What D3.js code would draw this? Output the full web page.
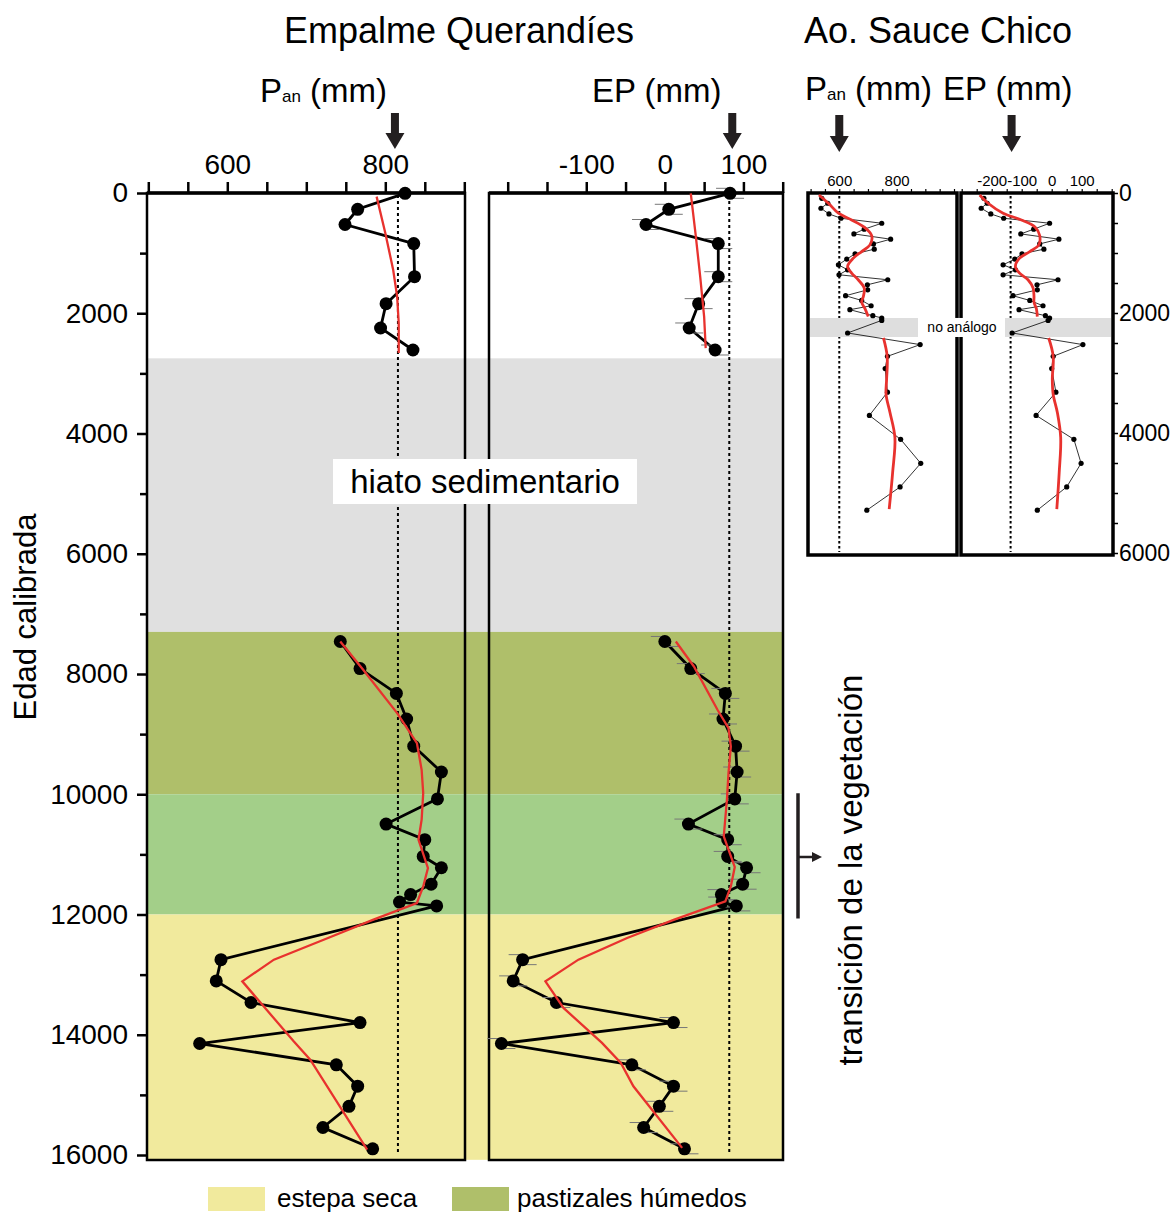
<!DOCTYPE html>
<html lang="es">
<head>
<meta charset="utf-8">
<title>Empalme Querandíes - Ao. Sauce Chico</title>
<script src="https://cdn.jsdelivr.net/npm/d3@7"></script>
<style>
  body { margin: 0; background: #fff; }
  svg text { font-family: "Liberation Sans", Arial, sans-serif; fill: #000; }
</style>
</head>
<body>
<svg id="chart" width="1174" height="1212"></svg>
<script>
// ---- Empalme Querandíes (edad cal. AP) ----
const ageTop = [5, 271, 524, 841, 1392, 1840, 2245, 2611]
const panTop = [825, 765, 749, 836, 837, 801, 794, 835]
const epTop = [83, 5, -24, 68, 68, 43, 31, 64]

const ageBottom = [7459, 7910, 8323, 8748, 9200, 9630, 10077, 10496, 10756, 11034, 11222, 11496, 11669,
  11793, 11857, 12751, 13104, 13464, 13797, 14146, 14500, 14855, 15190, 15543, 15897]
const panBottom = [743, 768, 814, 827, 836, 871, 866, 801, 850, 848, 871, 858, 832,
  818, 865, 592, 586, 630, 768, 565, 738, 765, 754, 721, 784]
const epBottom = [0, 33, 77, 74, 90, 92, 89, 30, 80, 80, 104, 99, 72,
  73, 91, -181, -193, -138, 11, -208, -42, 11, -7, -27, 25]

// curvas suavizadas (rojo)
const panSmoothAgeTop = [60, 665, 1280, 1724, 2161, 2660]
const panSmoothTop = [789, 800, 810, 815, 817, 817]
const epSmoothAgeTop = [5, 670, 1391, 2055, 2580]
const epSmoothTop = [33, 39, 45, 50, 52]

const panSmoothAgeBottom = [7459, 7930, 8650, 9149, 9593, 9980, 10424, 10757, 11227, 11533, 11809,
  12086, 12419, 12751, 13112, 14110, 14414, 15910]
const panSmoothBottom = [743, 772, 815, 840, 846, 848, 846, 842, 854, 848, 840,
  785, 722, 659, 619, 684, 705, 777]
const epSmoothAgeBottom = [7459, 7875, 8595, 8899, 9205, 9648, 10092, 10702, 11210, 11533, 11782,
  12086, 12390, 12751, 13112, 13554, 14136, 14468, 14857, 15882]
const epSmoothBottom = [14, 37, 67, 81, 84, 81, 79, 75, 89, 84, 77,
  12, -48, -110, -152, -129, -80, -56, -40, 22]

const panRef = 816   // linea punteada
const epRef = 82

// zonas de vegetacion
const zoneNames = ["hiato sedimentario", "pastizales húmedos", "transición", "estepa seca"]
const zoneFrom = [2750, 7300, 10000, 12000]
const zoneTo = [7300, 10000, 12000, 16080]

// ---- Ao. Sauce Chico ----
const ageSC = [88, 171, 254, 349, 421, 504, 603, 682, 770, 848, 936, 1014, 1102, 1197, 1280, 1363, 1446,
  1530, 1613, 1712, 1791, 1879, 1945, 2045, 2083, 2123, 2333, 2527, 2722, 2926, 3320, 3707, 4106,
  4505, 4899, 5287]
const panSC = [539, 560, 536, 564, 606, 748, 687, 651, 779, 719, 722, 655, 626, 597, 629, 599, 769,
  698, 699, 622, 678, 711, 637, 717, 748, 748, 629, 882, 768, 760, 768, 705, 814,
  884, 812, 696]
const epSC = [-226, -215, -235, -203, -160, -7, -60, -103, 24, -40, -26, -99, -123, -162, -121, -162, 21,
  -49, -48, -129, -73, -29, -109, -21, -7, -12, -132, 104, 5, 0, 14, -52, 74,
  98, 50, -48]

const smoothAgeSC1 = [33, 171, 337, 449, 570, 710, 865, 976, 1086, 1225, 1335, 1446, 1584, 1724, 1820, 1930, 2060]
const panSmoothSC1 = [529, 562, 597, 643, 687, 713, 707, 678, 649, 629, 643, 666, 687, 684, 678, 690, 701]
const epSmoothSC1 = [-240, -212, -162, -101, -55, -40, -43, -73, -107, -121, -107, -79, -62, -59, -59, -51, -48]
const smoothAgeSC2 = [2416, 2722, 3109, 3358, 3663, 4078, 4660, 5270]
const panSmoothSC2 = [754, 767, 765, 763, 777, 794, 786, 774]
const epSmoothSC2 = [-10, 5, 2, 5, 19, 30, 25, 17]

const noAnalogFrom = 2083
const noAnalogTo = 2400
const panRefSC = 600
const epRefSC = -137

// colores
const colors = {
  zones: ["#e0e0e0", "#afbf6a", "#a3cf89", "#f1ea9d"],
  red: "#e8322e",
  noAnalog: "#dedede"
}

const svg = d3.select("#chart")

// scales
const y = d3.scaleLinear().domain([0, 16000]).range([193, 1155])
const xPan = d3.scaleLinear().domain([500, 900]).range([148.3, 464.3])
const xEP = d3.scaleLinear().domain([-200, 150]).range([507.7, 782.7])

const ySC = d3.scaleLinear().domain([0, 6000]).range([193, 553])
const xPanSC = d3.scaleLinear().domain([500, 1000]).range([810.6, 954])
const xEPSC = d3.scaleLinear().domain([-300, 200]).range([961.7, 1111.7])

const zip = (a, b) => a.map((d, i) => [d, b[i]])

// ---------- bandas de fondo ----------
svg.append("g")
  .selectAll("rect")
  .data(zoneNames)
  .join("rect")
  .attr("x", 147)
  .attr("width", 783 - 147)
  .attr("y", (d, i) => y(zoneFrom[i]))
  .attr("height", (d, i) => y(zoneTo[i]) - y(zoneFrom[i]))
  .style("fill", (d, i) => colors.zones[i])

// marcos
svg.append("rect").attr("x", 147).attr("y", 193).attr("width", 318).attr("height", 967)
  .style("fill", "none").style("stroke", "#000").style("stroke-width", 2.5)
svg.append("rect").attr("x", 489).attr("y", 193).attr("width", 294).attr("height", 967)
  .style("fill", "none").style("stroke", "#000").style("stroke-width", 2.5)
svg.append("line").attr("x1", 147).attr("x2", 465).attr("y1", 193).attr("y2", 193)
  .style("stroke", "#000").style("stroke-width", 3.5)
svg.append("line").attr("x1", 489).attr("x2", 783).attr("y1", 193).attr("y2", 193)
  .style("stroke", "#000").style("stroke-width", 3.5)

// lineas punteadas de referencia
svg.append("line").attr("x1", xPan(panRef)).attr("x2", xPan(panRef)).attr("y1", 195).attr("y2", 1155)
  .style("stroke", "#000").style("stroke-width", 2).style("stroke-dasharray", "3,3")
svg.append("line").attr("x1", xEP(epRef)).attr("x2", xEP(epRef)).attr("y1", 195).attr("y2", 1155)
  .style("stroke", "#000").style("stroke-width", 2).style("stroke-dasharray", "3,3")

// hiato label
svg.append("rect").attr("x", 333).attr("y", 459).attr("width", 304).attr("height", 45).style("fill", "#fff")
svg.append("text").attr("x", 485).attr("y", 493).attr("text-anchor", "middle")
  .style("font-size", "33px").text("hiato sedimentario")

// ---------- ejes ----------
function styleAxis(g, size, width) {
  g.selectAll("text").attr("font-size", size).attr("font-family", null).style("fill", "#000")
  g.selectAll("line").style("stroke", "#000").style("stroke-width", width)
  g.select(".domain").remove()
}

svg.append("g")
  .attr("transform", "translate(0,193)")
  .call(d3.axisTop(xPan).tickValues(d3.range(500, 901, 50)).tickSize(11).tickPadding(8)
    .tickFormat(d => (d == 600 || d == 800) ? d : ""))
  .call(g => styleAxis(g, 28, 2.5))

svg.append("g")
  .attr("transform", "translate(0,193)")
  .call(d3.axisTop(xEP).tickValues(d3.range(-200, 151, 50)).tickSize(11).tickPadding(8)
    .tickFormat(d => (d % 100 == 0 && d > -200) ? d : ""))
  .call(g => styleAxis(g, 28, 2.5))

svg.append("g")
  .attr("transform", "translate(147,0)")
  .call(d3.axisLeft(y).tickValues(d3.range(0, 16001, 2000)).tickSize(10).tickPadding(9)
    .tickFormat(d => d))
  .call(g => styleAxis(g, 28, 2.5))

svg.append("g")
  .attr("transform", "translate(147,0)")
  .call(d3.axisLeft(y).tickValues(d3.range(1000, 16000, 2000)).tickSize(7).tickFormat(""))
  .call(g => styleAxis(g, 28, 2.5))

// ---------- series ----------
const lineMain = x => d3.line().x(d => x(d[1])).y(d => y(d[0]))

function drawSeries(x, ages, vals, withErr) {
  const pts = zip(ages, vals)
  const g = svg.append("g")
  g.append("path")
    .attr("d", lineMain(x)(pts))
    .style("fill", "none").style("stroke", "#000").style("stroke-width", 2.8)
  if (withErr) {
    g.selectAll(".err-a").data(pts).join("line")
      .attr("x1", d => x(d[1]) - 14).attr("x2", d => x(d[1]) - 2)
      .attr("y1", d => y(d[0]) - 5).attr("y2", d => y(d[0]) - 5)
      .style("stroke", "#777").style("stroke-width", 1)
    g.selectAll(".err-b").data(pts).join("line")
      .attr("x1", d => x(d[1]) + 2).attr("x2", d => x(d[1]) + 14)
      .attr("y1", d => y(d[0]) + 5).attr("y2", d => y(d[0]) + 5)
      .style("stroke", "#777").style("stroke-width", 1)
  }
  g.selectAll("circle").data(pts).join("circle")
    .attr("cx", d => x(d[1])).attr("cy", d => y(d[0])).attr("r", 6.5)
    .style("fill", "#000")
}

function drawSmooth(x, ages, vals) {
  svg.append("path")
    .attr("d", lineMain(x)(zip(ages, vals)))
    .style("fill", "none").style("stroke", colors.red).style("stroke-width", 2.3)
}

drawSeries(xPan, ageTop, panTop, false)
drawSeries(xPan, ageBottom, panBottom, false)
drawSeries(xEP, ageTop, epTop, true)
drawSeries(xEP, ageBottom, epBottom, true)
drawSmooth(xPan, panSmoothAgeTop, panSmoothTop)
drawSmooth(xPan, panSmoothAgeBottom, panSmoothBottom)
drawSmooth(xEP, epSmoothAgeTop, epSmoothTop)
drawSmooth(xEP, epSmoothAgeBottom, epSmoothBottom)

// ---------- Ao. Sauce Chico ----------
svg.append("rect").attr("x", 808).attr("y", 193).attr("width", 149).attr("height", 362)
  .style("fill", "none").style("stroke", "#000").style("stroke-width", 3.5)
svg.append("rect").attr("x", 961).attr("y", 193).attr("width", 152).attr("height", 362)
  .style("fill", "none").style("stroke", "#000").style("stroke-width", 3.5)

svg.append("g")
  .attr("transform", "translate(0,193)")
  .call(d3.axisTop(xPanSC).tickValues(d3.range(500, 1001, 50)).tickSize(4).tickPadding(3)
    .tickFormat(d => (d == 600 || d == 800) ? d : ""))
  .call(g => styleAxis(g, 15, 1.2))
svg.append("g")
  .attr("transform", "translate(0,193)")
  .call(d3.axisTop(xEPSC).tickValues(d3.range(-300, 201, 50)).tickSize(4).tickPadding(3)
    .tickFormat(d => (d % 100 == 0 && d > -300 && d < 200) ? d : ""))
  .call(g => styleAxis(g, 15, 1.2))
svg.append("g")
  .attr("transform", "translate(1113,0)")
  .call(d3.axisRight(ySC).tickValues(d3.range(0, 6001, 500)).tickSize(5).tickPadding(1)
    .tickFormat(d => d % 2000 == 0 ? d : ""))
  .call(g => styleAxis(g, 23, 1.5))

svg.append("line").attr("x1", xPanSC(panRefSC)).attr("x2", xPanSC(panRefSC)).attr("y1", 196).attr("y2", 552)
  .style("stroke", "#000").style("stroke-width", 2).style("stroke-dasharray", "2.5,2.5")
svg.append("line").attr("x1", xEPSC(epRefSC)).attr("x2", xEPSC(epRefSC)).attr("y1", 196).attr("y2", 552)
  .style("stroke", "#000").style("stroke-width", 2).style("stroke-dasharray", "2.5,2.5")

// no analogo
svg.append("rect").attr("x", 810).attr("width", 1111 - 810)
  .attr("y", ySC(noAnalogFrom)).attr("height", ySC(noAnalogTo) - ySC(noAnalogFrom))
  .style("fill", colors.noAnalog)
svg.append("rect").attr("x", 918).attr("width", 87)
  .attr("y", ySC(noAnalogFrom)).attr("height", ySC(noAnalogTo) - ySC(noAnalogFrom))
  .style("fill", "#fff")
svg.append("text").attr("x", 962).attr("y", ySC((noAnalogFrom + noAnalogTo) / 2) + 5)
  .attr("text-anchor", "middle").style("font-size", "14px").text("no análogo")

const lineSC = x => d3.line().x(d => x(d[1])).y(d => ySC(d[0]))

function drawSC(x, vals, s1, s2) {
  const pts = zip(ageSC, vals)
  svg.append("path").attr("d", lineSC(x)(pts))
    .style("fill", "none").style("stroke", "#000").style("stroke-width", 0.8)
  svg.append("g").selectAll("circle").data(pts).join("circle")
    .attr("cx", d => x(d[1])).attr("cy", d => ySC(d[0])).attr("r", 2.6).style("fill", "#000")
  const smooth = lineSC(x).curve(d3.curveCatmullRom)
  svg.append("path").attr("d", smooth(zip(smoothAgeSC1, s1)))
    .style("fill", "none").style("stroke", colors.red).style("stroke-width", 2.8)
  svg.append("path").attr("d", smooth(zip(smoothAgeSC2, s2)))
    .style("fill", "none").style("stroke", colors.red).style("stroke-width", 2.8)
}

drawSC(xPanSC, panSC, panSmoothSC1, panSmoothSC2)
drawSC(xEPSC, epSC, epSmoothSC1, epSmoothSC2)

// ---------- titulos ----------
svg.append("text").attr("x", 459).attr("y", 43).attr("text-anchor", "middle")
  .style("font-size", "36px").text("Empalme Querandíes")
svg.append("text").attr("x", 938).attr("y", 43).attr("text-anchor", "middle")
  .style("font-size", "36px").text("Ao. Sauce Chico")

function panLabel(x, yy) {
  const t = svg.append("text").attr("x", x).attr("y", yy).style("font-size", "33px")
  t.append("tspan").text("P")
  t.append("tspan").attr("dy", 0).style("font-size", "17px").text("an")
  t.append("tspan").text(" (mm)")
  return t
}
panLabel(260, 102)
svg.append("text").attr("x", 592).attr("y", 102).style("font-size", "33px").text("EP (mm)")
panLabel(805, 100)
svg.append("text").attr("x", 943).attr("y", 100).style("font-size", "33px").text("EP (mm)")

function arrow(cx, top, bottom, shaftW, headW, headH) {
  const p = d3.path()
  p.moveTo(cx - shaftW / 2, top)
  p.lineTo(cx + shaftW / 2, top)
  p.lineTo(cx + shaftW / 2, bottom - headH)
  p.lineTo(cx + headW / 2, bottom - headH)
  p.lineTo(cx, bottom)
  p.lineTo(cx - headW / 2, bottom - headH)
  p.lineTo(cx - shaftW / 2, bottom - headH)
  p.closePath()
  svg.append("path").attr("d", p.toString()).style("fill", "#231f20")
}
arrow(xPan(panRef) - 3, 113, 149, 8, 19, 16)
arrow(xEP(epRef) + 3, 113, 149, 8, 19, 16)
arrow(xPanSC(panRefSC), 115, 152, 8, 19, 16)
arrow(xEPSC(epRefSC) + 1, 115, 152, 8, 19, 16)

// eje Y titulo
svg.append("text").attr("transform", "translate(36,617) rotate(-90)").attr("text-anchor", "middle")
  .style("font-size", "31px").text("Edad calibrada")

// transicion de la vegetacion
svg.append("line").attr("x1", 798).attr("x2", 798).attr("y1", y(zoneFrom[2]) - 1).attr("y2", y(zoneTo[2]) + 4)
  .style("stroke", "#231f20").style("stroke-width", 3.5)
svg.append("line").attr("x1", 798).attr("x2", 814).attr("y1", 857).attr("y2", 857)
  .style("stroke", "#231f20").style("stroke-width", 2.5)
svg.append("path").attr("d", "M812,852L822,857L812,862Z").style("fill", "#231f20")
svg.append("text").attr("transform", "translate(862,870) rotate(-90)").attr("text-anchor", "middle")
  .style("font-size", "33px").text("transición de la vegetación")

// leyenda
const legendNames = [zoneNames[3], zoneNames[1]]
const legendColors = [colors.zones[3], colors.zones[1]]
const legendX = [208, 452]
legendNames.forEach((n, i) => {
  svg.append("rect").attr("x", legendX[i]).attr("y", 1187).attr("width", 57).attr("height", 24)
    .style("fill", legendColors[i])
  svg.append("text").attr("x", legendX[i] + 69 - (i ? 4 : 0)).attr("y", 1207)
    .style("font-size", "26px").text(n)
})
</script>
</body>
</html>
